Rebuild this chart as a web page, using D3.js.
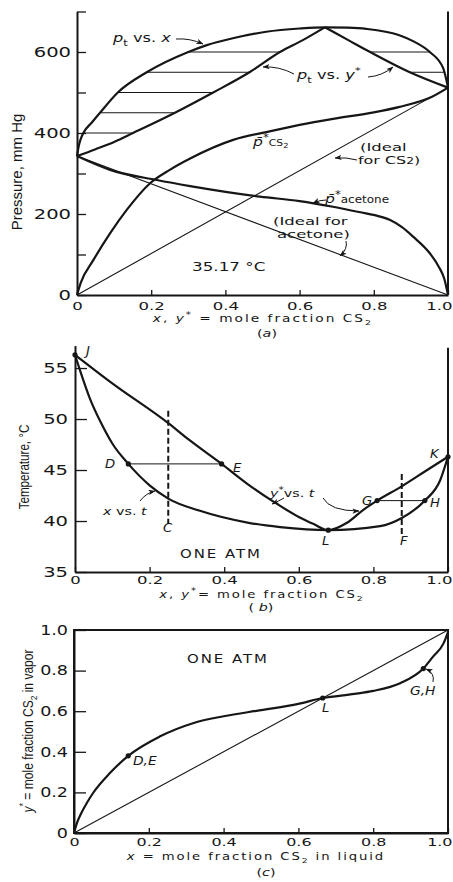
<!DOCTYPE html>
<html><head><meta charset="utf-8">
<script src="https://cdn.jsdelivr.net/npm/d3@7"></script>
<style>body{margin:0;background:#fff}svg{display:block}</style>
</head><body>
<svg id="c" width="453" height="882"></svg>
<script>
// ---------- DATA ----------
// (a) 35.17 °C, pressure (mm Hg) vs mole fraction CS2
const ptx_x = [0, 0.004, 0.01, 0.017, 0.04, 0.062, 0.11, 0.188, 0.3, 0.35, 0.42, 0.51, 0.6, 0.668, 0.73, 0.78, 0.867, 0.91, 0.951, 0.987, 1.0];
const ptx_p = [343, 365, 385, 400, 426, 450, 500, 550, 600, 617, 634, 650, 658, 661, 660, 657, 642, 625, 600, 560, 512];
const pty_left_y = [0, 0.05, 0.1, 0.151, 0.264, 0.367, 0.465, 0.547, 0.61, 0.668];
const pty_left_p = [343, 360, 378, 400, 450, 500, 550, 600, 630, 661];
const pty_right_y = [0.668, 0.73, 0.79, 0.897, 1.0];
const pty_right_p = [661, 630, 600, 550, 512];
const pcs2_x = [0, 0.01, 0.044, 0.089, 0.134, 0.197, 0.25, 0.305, 0.421, 0.519, 0.6, 0.69, 0.8, 0.867, 0.954, 1.0];
const pcs2_p = [0, 30, 86, 152, 210, 276, 309, 337, 383, 404, 420, 435, 451, 464, 488, 512];
const pace_x = [0, 0.089, 0.215, 0.305, 0.493, 0.6, 0.69, 0.76, 0.82, 0.844, 0.875, 0.906, 0.951, 0.975, 0.99, 1.0];
const pace_p = [343, 309, 284, 269, 243, 232, 218, 205, 193, 185, 168, 144, 103, 70, 40, 0];
const idealCS2_x = [0, 1], idealCS2_p = [0, 512];
const idealAce_x = [0, 1], idealAce_p = [343, 0];
const tieL_p = [400, 450, 500, 550, 600];
const tieL_x = [0.017, 0.062, 0.11, 0.188, 0.3];
const tieL_y = [0.151, 0.264, 0.367, 0.465, 0.547];
const tieR_p = [550, 600];
const tieR_y = [0.897, 0.79];
const tieR_x = [0.99, 0.951];
const ticksP = [0, 100, 200, 300, 400, 500, 600, 700];

// (b) one atm, temperature (°C)
const liq_x = [0, 0.015, 0.04, 0.07, 0.1, 0.143, 0.2, 0.25, 0.335, 0.469, 0.55, 0.679, 0.818, 0.876, 0.938, 0.979, 1.0];
const liq_t = [56.3, 54.6, 52.0, 49.6, 47.6, 45.6, 43.5, 42.2, 41.0, 39.8, 39.4, 39.1, 39.5, 40.3, 42.0, 44.0, 46.3];
const vap_y = [0, 0.1, 0.25, 0.308, 0.393, 0.46, 0.532, 0.6, 0.64, 0.679, 0.728, 0.773, 0.81, 0.876, 0.94, 1.0];
const vap_t = [56.3, 53.5, 49.6, 47.9, 45.6, 43.7, 41.9, 40.4, 39.7, 39.1, 39.8, 41.1, 42.0, 43.4, 44.9, 46.3];
const ptNames = ["J", "D", "E", "G", "H", "L", "K"];
const ptX = [0, 0.143, 0.393, 0.81, 0.938, 0.679, 1.0];
const ptT = [56.3, 45.6, 45.6, 42.0, 42.0, 39.1, 46.3];
const tieB_t = [45.6, 42.0], tieB_x1 = [0.143, 0.81], tieB_x2 = [0.393, 0.938];
const dashNames = ["C", "F"], dash_x = [0.25, 0.876], dash_t1 = [50.8, 44.6], dash_t2 = [39.7, 38.7];
const ticksT = [35, 40, 45, 50, 55];

// (c) y* vs x
const xy_x = [0, 0.008, 0.02, 0.035, 0.051, 0.096, 0.145, 0.229, 0.318, 0.4, 0.5, 0.6, 0.665, 0.75, 0.8, 0.872, 0.934, 0.96, 0.988, 1.0];
const xy_y = [0, 0.05, 0.1, 0.15, 0.197, 0.295, 0.38, 0.475, 0.541, 0.575, 0.605, 0.636, 0.665, 0.685, 0.70, 0.738, 0.81, 0.869, 0.934, 0.99];
const diag = [0, 1];
const cPtX = [0.145, 0.665, 0.934], cPtY = [0.38, 0.665, 0.81];
const ticksX = [0, 0.2, 0.4, 0.6, 0.8, 1.0];
const ticksY = [0, 0.2, 0.4, 0.6, 0.8, 1.0];

// ---------- DRAWING ----------
const INK = "#161616";
const FUT = "DejaVu Sans";
const svg = d3.select("#c");
svg.append("rect").attr("width", 453).attr("height", 882).attr("fill", "#fff");
const defs = svg.append("defs");
defs.append("marker").attr("id", "ah").attr("viewBox", "0 0 8 6").attr("refX", 7.5).attr("refY", 3)
  .attr("markerWidth", 7).attr("markerHeight", 5.5).attr("markerUnits", "userSpaceOnUse").attr("orient", "auto")
  .append("path").attr("d", "M0,0 L8,3 L0,6 L2,3 Z").attr("fill", INK);

function lab(g, o) {
  const size = o.size || 12;
  const t = g.append("text")
    .attr("transform", `translate(${o.x},${o.y})${o.rot ? ` rotate(${o.rot})` : ""} scale(${o.sx || 1},1)`)
    .attr("font-family", o.fam || FUT).attr("font-size", size)
    .attr("text-anchor", o.anchor || "start").attr("fill", INK);
  if (o.ls) t.attr("letter-spacing", o.ls);
  let cur = 0;
  o.parts.forEach(p => {
    if (typeof p === "string") p = { t: p };
    const ts = t.append("tspan").text(p.t);
    let fs = p.fs || size, off = 0;
    if (p.sub) { fs = p.fs || size * 0.7; off = size * 0.3; }
    if (p.sup) { fs = p.fs || size * 0.75; off = -size * 0.4; }
    if (p.off !== undefined) off = p.off;
    ts.attr("font-size", fs);
    if (p.i) ts.attr("font-style", "italic");
    if (off - cur !== 0) ts.attr("dy", off - cur);
    cur = off;
  });
  return t;
}
function arrow(g, d) {
  g.append("path").attr("d", d).attr("fill", "none").attr("stroke", INK)
    .attr("stroke-width", 1).attr("marker-end", "url(#ah)");
}
function styleAxis(ax, size, sx, isY, pad) {
  ax.select(".domain").attr("stroke", INK).attr("stroke-width", 2);
  ax.selectAll(".tick line").attr("stroke", INK).attr("stroke-width", 1.3);
  ax.attr("font-family", FUT).attr("font-size", size);
  ax.selectAll(".tick text").attr("fill", INK).attr("transform", `scale(${sx},1)`);
  if (isY) ax.selectAll(".tick text").attr("x", -pad / sx);
  else ax.selectAll(".tick text").filter(d => d === 1).attr("text-anchor", "end").attr("x", 4 / sx);
}
const fmt1 = d => d === 0 ? "0" : d3.format(".1f")(d);

// ===== Panel (a) =====
const xA = d3.scaleLinear().domain([0, 1]).range([77, 448]);
const yA = d3.scaleLinear().domain([0, 700]).range([295, 11.5]);
const gA = svg.append("g");
const lnA = (xs, ps, c) => d3.line().x((d, i) => xA(xs[i])).y((d, i) => yA(ps[i])).curve(c || d3.curveMonotoneX)(xs);

tieL_p.forEach((p, i) => gA.append("line").attr("x1", xA(tieL_x[i])).attr("x2", xA(tieL_y[i]))
  .attr("y1", yA(p)).attr("y2", yA(p)).attr("stroke", INK).attr("stroke-width", 1));
tieR_p.forEach((p, i) => gA.append("line").attr("x1", xA(tieR_y[i])).attr("x2", xA(tieR_x[i]))
  .attr("y1", yA(p)).attr("y2", yA(p)).attr("stroke", INK).attr("stroke-width", 1));
gA.append("path").attr("d", lnA(idealCS2_x, idealCS2_p, d3.curveLinear)).attr("fill", "none").attr("stroke", INK).attr("stroke-width", 1.1);
gA.append("path").attr("d", lnA(idealAce_x, idealAce_p, d3.curveLinear)).attr("fill", "none").attr("stroke", INK).attr("stroke-width", 1.1);
[[ptx_x, ptx_p], [pty_left_y, pty_left_p], [pty_right_y, pty_right_p], [pcs2_x, pcs2_p], [pace_x, pace_p]].forEach(([a, b]) =>
  gA.append("path").attr("d", lnA(a, b)).attr("fill", "none").attr("stroke", INK).attr("stroke-width", 2.2));
gA.append("line").attr("x1", xA(1)).attr("x2", xA(1)).attr("y1", yA(700)).attr("y2", yA(0)).attr("stroke", INK).attr("stroke-width", 2);
const axAy = gA.append("g").attr("transform", `translate(${xA(0)},0)`)
  .call(d3.axisLeft(yA).tickValues(ticksP).tickSize(-9).tickSizeOuter(0).tickFormat(d => d % 200 === 0 ? d : ""));
styleAxis(axAy, 13.5, 1.45, true, 6);
const axAx = gA.append("g").attr("transform", `translate(0,${yA(0)})`)
  .call(d3.axisBottom(xA).tickValues(ticksX).tickSize(-5).tickSizeOuter(0).tickPadding(7).tickFormat(fmt1));
styleAxis(axAx, 11, 1.5, false);
lab(gA, { x: 22, y: 172, rot: -90, anchor: "middle", fam: "Liberation Sans", size: 15, sx: 1, parts: ["Pressure, mm Hg"] });
lab(gA, { x: 263, y: 322, anchor: "middle", size: 11, sx: 1.25, ls: 1.6, parts: [{ t: "x", i: 1 }, ", ", { t: "y", i: 1 }, { t: "*", sup: 1 }, { t: " = mole fraction CS", off: 0 }, { t: "2", sub: 1 }] });
lab(gA, { x: 267, y: 337, anchor: "middle", size: 11, sx: 1.3, parts: ["(", { t: "a", i: 1 }, ")"] });
lab(gA, { x: 113, y: 42, size: 12, sx: 1.35, parts: [{ t: "p", i: 1 }, { t: "t", sub: 1 }, { t: " vs. ", off: 0 }, { t: "x", i: 1 }] });
lab(gA, { x: 297, y: 79, size: 12, sx: 1.35, parts: [{ t: "p", i: 1 }, { t: "t", sub: 1 }, { t: " vs. ", off: 0 }, { t: "y", i: 1 }, { t: "*", sup: 1 }] });
lab(gA, { x: 253, y: 146, size: 13, sx: 1.2, parts: [{ t: "p\u0304", i: 1 }, { t: "*", sup: 1 }, { t: "CS", fs: 9, off: 0 }, { t: "2", fs: 7, off: 2 }] });
lab(gA, { x: 360, y: 151, size: 11, sx: 1.5, parts: ["(Ideal"] });
lab(gA, { x: 358, y: 164, size: 11, sx: 1.45, parts: [{ t: "for CS" }, { t: "2", fs: 8.5, off: 0 }, { t: ")", off: 0 }] });
lab(gA, { x: 325, y: 203, size: 13, sx: 1.2, parts: [{ t: "p\u0304", i: 1 }, { t: "*", sup: 1 }, { t: "acetone", fs: 10, off: 0 }] });
lab(gA, { x: 273, y: 225, size: 11, sx: 1.5, parts: ["(Ideal for"] });
lab(gA, { x: 277, y: 238, size: 11, sx: 1.5, parts: ["acetone)"] });
lab(gA, { x: 192, y: 271, size: 12, sx: 1.4, parts: ["35.17 °C"] });
arrow(gA, "M176,39 Q190,38 203,44");
arrow(gA, "M294,74 Q279,66 263,67");
arrow(gA, "M368,77 Q382,76 393,67");
arrow(gA, "M357,160 Q346,157 335,158");
arrow(gA, "M326,200 Q320,200 313,203");
arrow(gA, "M346,241 Q348,249 340,256");

// ===== Panel (b) =====
const xB = d3.scaleLinear().domain([0, 1]).range([75, 448]);
const yB = d3.scaleLinear().domain([35, 57.2]).range([572, 345.6]);
const gB = svg.append("g");
const lnB = (xs, ts) => d3.line().x((d, i) => xB(xs[i])).y((d, i) => yB(ts[i])).curve(d3.curveMonotoneX)(xs);
tieB_t.forEach((t, i) => gB.append("line").attr("x1", xB(tieB_x1[i])).attr("x2", xB(tieB_x2[i]))
  .attr("y1", yB(t)).attr("y2", yB(t)).attr("stroke", INK).attr("stroke-width", 1));
dash_x.forEach((x, i) => gB.append("line").attr("x1", xB(x)).attr("x2", xB(x))
  .attr("y1", yB(dash_t1[i])).attr("y2", yB(dash_t2[i])).attr("stroke", INK).attr("stroke-width", 2).attr("stroke-dasharray", "6,3"));
gB.append("path").attr("d", lnB(liq_x, liq_t)).attr("fill", "none").attr("stroke", INK).attr("stroke-width", 2.2);
gB.append("path").attr("d", lnB(vap_y, vap_t)).attr("fill", "none").attr("stroke", INK).attr("stroke-width", 2.2);
ptX.forEach((x, i) => gB.append("circle").attr("cx", xB(x)).attr("cy", yB(ptT[i])).attr("r", 2.6).attr("fill", INK));
gB.append("line").attr("x1", xB(1)).attr("x2", xB(1)).attr("y1", yB(57)).attr("y2", yB(35)).attr("stroke", INK).attr("stroke-width", 2);
const axBy = gB.append("g").attr("transform", `translate(${xB(0)},0)`)
  .call(d3.axisLeft(yB).tickValues(ticksT).tickSize(-12).tickSizeOuter(0));
styleAxis(axBy, 13.5, 1.45, true, 7);
const axBx = gB.append("g").attr("transform", `translate(0,${yB(35)})`)
  .call(d3.axisBottom(xB).tickValues(ticksX).tickSize(-5).tickSizeOuter(0).tickPadding(4).tickFormat(fmt1));
styleAxis(axBx, 11, 1.5, false);
lab(gB, { x: 29, y: 467, rot: -90, anchor: "middle", fam: "Liberation Sans", size: 14, sx: 0.83, parts: ["Temperature, °C"] });
lab(gB, { x: 262, y: 598, anchor: "middle", size: 11, sx: 1.2, ls: 1.6, parts: [{ t: "x", i: 1 }, ", ", { t: "y", i: 1 }, { t: "*", sup: 1 }, { t: "= mole fraction CS", off: 0 }, { t: "2", sub: 1 }] });
lab(gB, { x: 261, y: 611, anchor: "middle", size: 11, sx: 1.3, parts: ["( ", { t: "b", i: 1 }, ")"] });
const ptLab = { J: [86, 355], D: [105, 468], E: [233, 472], G: [362, 505], H: [430, 507], L: [322, 545], K: [430, 458] };
ptNames.forEach(n => lab(gB, { x: ptLab[n][0], y: ptLab[n][1], size: 12, sx: 1.1, parts: [{ t: n, i: 1 }] }));
lab(gB, { x: 163, y: 532, size: 12, sx: 1.1, parts: [{ t: dashNames[0], i: 1 }] });
lab(gB, { x: 400, y: 545, size: 12, sx: 1.1, parts: [{ t: dashNames[1], i: 1 }] });
lab(gB, { x: 103, y: 515, size: 11, sx: 1.3, parts: [{ t: "x", i: 1 }, " vs. ", { t: "t", i: 1 }] });
lab(gB, { x: 270, y: 497, size: 11, sx: 1.3, parts: [{ t: "y", i: 1 }, { t: "*", sup: 1 }, { t: "vs. ", off: 0 }, { t: "t", i: 1 }] });
lab(gB, { x: 180, y: 558, size: 11.5, sx: 1.3, ls: 1.5, parts: ["ONE ATM"] });
arrow(gB, "M140,501 Q146,493 155,491");
arrow(gB, "M284,498 Q279,501 272,504");
arrow(gB, "M323,498 Q330,511 359,511");

// ===== Panel (c) =====
const xC = d3.scaleLinear().domain([0, 1]).range([74, 448]);
const yC = d3.scaleLinear().domain([0, 1]).range([833, 630]);
const gC = svg.append("g");
gC.append("path").attr("d", d3.line().x(d => xC(d)).y(d => yC(d))(diag)).attr("fill", "none").attr("stroke", INK).attr("stroke-width", 1.1);
gC.append("path").attr("d", d3.line().x((d, i) => xC(xy_x[i])).y((d, i) => yC(xy_y[i])).curve(d3.curveMonotoneX)(xy_x))
  .attr("fill", "none").attr("stroke", INK).attr("stroke-width", 2.2);
cPtX.forEach((x, i) => gC.append("circle").attr("cx", xC(x)).attr("cy", yC(cPtY[i])).attr("r", 2.6).attr("fill", INK));
gC.append("rect").attr("x", xC(0)).attr("y", yC(1)).attr("width", xC(1) - xC(0)).attr("height", yC(0) - yC(1))
  .attr("fill", "none").attr("stroke", INK).attr("stroke-width", 2);
const axCy = gC.append("g").attr("transform", `translate(${xC(0)},0)`)
  .call(d3.axisLeft(yC).tickValues(ticksY).tickSize(-12).tickSizeOuter(0).tickFormat(fmt1));
styleAxis(axCy, 13.5, 1.3, true, 6);
const axCx = gC.append("g").attr("transform", `translate(0,${yC(0)})`)
  .call(d3.axisBottom(xC).tickValues(ticksX).tickSize(-5).tickSizeOuter(0).tickPadding(5).tickFormat(fmt1));
styleAxis(axCx, 11, 1.45, false);
lab(gC, { x: 33, y: 731, rot: -90, anchor: "middle", fam: "Liberation Sans", size: 14, sx: 0.86, parts: [{ t: "y", i: 1 }, { t: "*", sup: 1 }, { t: " = mole fraction CS", off: 0 }, { t: "2", sub: 1 }, { t: " in vapor", off: 0 }] });
lab(gC, { x: 256, y: 860, anchor: "middle", size: 11, sx: 1.2, ls: 1.6, parts: [{ t: "x", i: 1 }, " = mole fraction CS", { t: "2", sub: 1 }, { t: " in liquid", off: 0 }] });
lab(gC, { x: 266, y: 876, anchor: "middle", size: 11, sx: 1.3, parts: ["(", { t: "c", i: 1 }, ")"] });
lab(gC, { x: 187, y: 663, size: 11.5, sx: 1.3, ls: 1.5, parts: ["ONE ATM"] });
lab(gC, { x: 133, y: 765, size: 12, sx: 1.15, parts: [{ t: "D,E", i: 1 }] });
lab(gC, { x: 322, y: 712, size: 12, sx: 1.1, parts: [{ t: "L", i: 1 }] });
lab(gC, { x: 410, y: 695, size: 12, sx: 1.15, parts: [{ t: "G,H", i: 1 }] });
arrow(gC, "M433,682 Q435,673 426,669");
</script>
</body></html>
